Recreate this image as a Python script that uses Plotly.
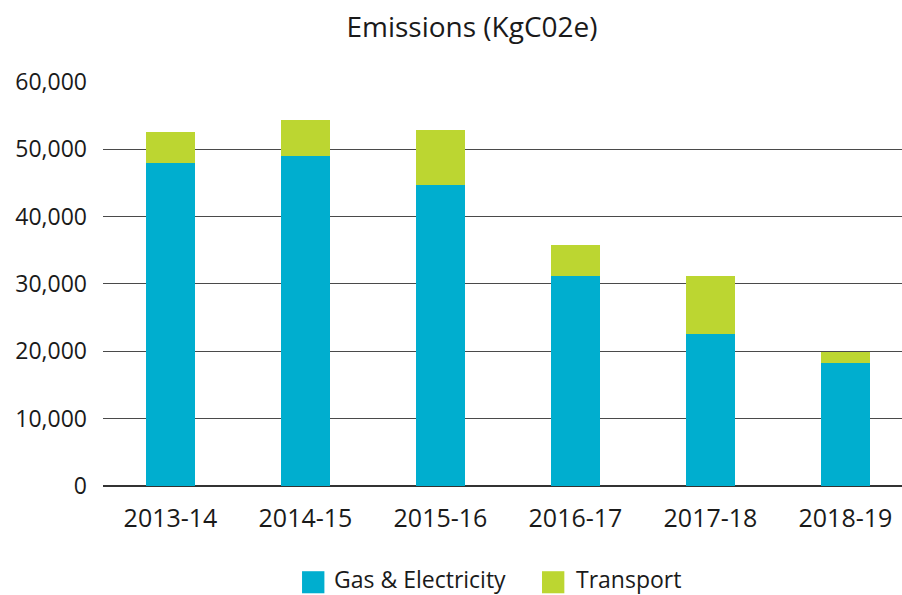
import plotly.graph_objects as go

years = ["2013-14", "2014-15", "2015-16", "2016-17", "2017-18", "2018-19"]
gas_electricity = [47900, 48900, 44600, 31200, 22600, 18200]
transport = [4600, 5400, 8200, 4500, 8600, 1650]
y_ticks = [0, 10000, 20000, 30000, 40000, 50000, 60000]
y_tick_labels = ["0", "10,000", "20,000", "30,000", "40,000", "50,000", "60,000"]
series_names = ["Gas & Electricity", "Transport"]
series_colors = ["#00AECF", "#BCD631"]

FONT = "Open Sans, Noto Sans, sans-serif"
TXT = "#1a1a1a"

fig = go.Figure()
fig.add_trace(go.Bar(x=years, y=gas_electricity, name=series_names[0],
                     marker=dict(color=series_colors[0], line=dict(width=0))))
fig.add_trace(go.Bar(x=years, y=transport, name=series_names[1],
                     marker=dict(color=series_colors[1], line=dict(width=0))))

# custom legend (large square swatches)
legend_pos = [(0.2491, 0.2879), (0.5494, 0.5907)]
for (sx, tx), name, col in zip(legend_pos, series_names, series_colors):
    fig.add_shape(type="rect", xref="paper", yref="paper",
                  x0=sx, x1=sx + 0.0280, y0=-0.2649, y1=-0.2104,
                  fillcolor=col, line=dict(width=0))
    fig.add_annotation(xref="paper", yref="paper", x=tx, y=-0.2285,
                       xanchor="left", yanchor="middle", showarrow=False,
                       borderpad=0,
                       text=name, font=dict(family=FONT, size=23, color=TXT))

fig.update_layout(
    barmode="stack",
    bargap=0.637,
    width=902, height=595,
    margin=dict(l=103, r=0, t=81, b=109, autoexpand=False),
    paper_bgcolor="white", plot_bgcolor="white",
    font=dict(family=FONT, size=23, color=TXT),
    title=dict(text="Emissions (KgC02e)", x=0.5233, xanchor="center", y=0.9546, yanchor="middle",
               font=dict(family=FONT, size=28, color=TXT)),
    showlegend=False,
    xaxis=dict(range=[-0.5, 5.419], showgrid=False, showline=False, ticks="",
               tickfont=dict(family=FONT, size=25, color=TXT), ticklabelstandoff=15),
    yaxis=dict(range=[0, 60100], tickvals=y_ticks, ticktext=y_tick_labels,
               showgrid=True, gridcolor="#4a4a4a", gridwidth=1,
               zeroline=True, zerolinecolor="#333333", zerolinewidth=2,
               showline=False, ticks="", tickfont=dict(family=FONT, size=23, color=TXT),
               ticklabelstandoff=15),
)

fig.write_html("out.html", config={"displayModeBar": False},
               post_script="document.body.style.margin='0';document.body.style.overflow='hidden';")
